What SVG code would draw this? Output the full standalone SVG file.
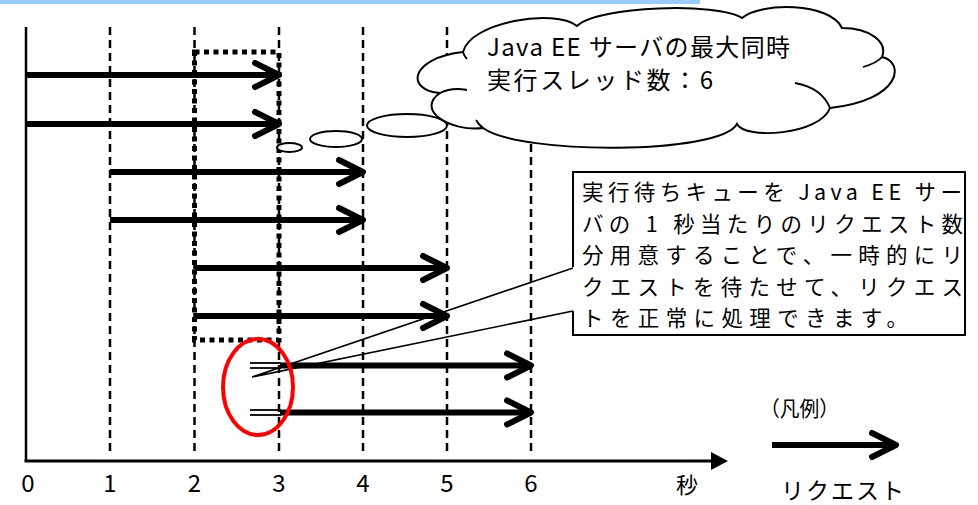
<svg xmlns="http://www.w3.org/2000/svg" width="978" height="505" viewBox="0 0 978 505">
<style>
.t{font-family:"Noto Sans CJK JP","Noto Sans",sans-serif;fill:#000}
.grid{stroke:#000;stroke-width:2.5;stroke-dasharray:8 5;fill:none}
.req{stroke:#000;stroke-width:6;fill:none}
.thin{stroke:#000;stroke-width:1.8;fill:none}
.bub{fill:#fff;stroke:#000;stroke-width:2}
</style>
<defs>
<marker id="chev" markerUnits="userSpaceOnUse" markerWidth="40" markerHeight="40" viewBox="-30 -20 40 40" refX="0" refY="0" orient="auto" overflow="visible">
<path d="M-24,-12 L0,0 L-24,12" fill="none" stroke="#000" stroke-width="6" stroke-linecap="round" stroke-linejoin="round"/>
</marker>
</defs>
<rect x="0" y="0" width="700" height="4" fill="#99ccff"/>
<g id="grid">
<line class="grid" x1="110" y1="27" x2="110" y2="456"/>
<line class="grid" x1="194.5" y1="27" x2="194.5" y2="456"/>
<line class="grid" x1="279" y1="27" x2="279" y2="456"/>
<line class="grid" x1="363" y1="27" x2="363" y2="456"/>
<line class="grid" x1="447" y1="27" x2="447" y2="456"/>
<line class="grid" x1="531" y1="27" x2="531" y2="456"/>
</g>
<g id="capacity-box">
<rect x="194.5" y="52" width="84.5" height="288" fill="none" stroke="#000" stroke-width="5" stroke-dasharray="5 4.5"/>
</g>
<g id="connectors">
<line class="req" x1="26" y1="75" x2="279" y2="75" marker-end="url(#chev)"/>
<line class="req" x1="26" y1="124" x2="279" y2="124" marker-end="url(#chev)"/>
<line class="req" x1="110" y1="172" x2="363" y2="172" marker-end="url(#chev)"/>
<line class="req" x1="110" y1="220" x2="363" y2="220" marker-end="url(#chev)"/>
<line class="req" x1="194.5" y1="268" x2="447" y2="268" marker-end="url(#chev)"/>
<line class="req" x1="194.5" y1="316" x2="447" y2="316" marker-end="url(#chev)"/>
<line class="thin" x1="250" y1="363" x2="281" y2="363"/>
<line class="thin" x1="250" y1="368" x2="281" y2="368"/>
<line class="req" x1="280" y1="365.5" x2="531" y2="365.5" marker-end="url(#chev)"/>
<line class="thin" x1="250" y1="410" x2="281" y2="410"/>
<line class="thin" x1="250" y1="415" x2="281" y2="415"/>
<line class="req" x1="280" y1="412.5" x2="531" y2="412.5" marker-end="url(#chev)"/>
</g>
<g id="thought-bubbles">
<ellipse class="bub" cx="289.5" cy="147.5" rx="12.5" ry="4.5"/>
<ellipse class="bub" cx="336" cy="139" rx="26" ry="8"/>
<ellipse class="bub" cx="407" cy="125.5" rx="40" ry="11.5"/>
</g>
<g id="cloud">
<path class="bub" d="M463,52 C470,22 555,8 577,26 C598,6 718,2 742,18 C760,2 830,2 842,28 C870,28 888,42 882,57 C905,62 902,100 830,108 C820,135 745,140 737,124 C720,155 520,155 483,128 C450,132 415,110 440,93 C405,90 410,58 463,52 Z"/>
<path class="thin" d="M440,93 Q452,87 467,90"/>
<path class="thin" d="M463,52 Q464,56 467,59"/>
<path class="thin" d="M882,57 Q877,63 863,67"/>
<path class="thin" d="M830,108 Q822,88 795,83"/>
<path class="thin" d="M483,128 Q478,124 476,120"/>
<text class="t" x="487" y="56" font-size="24" textLength="303" lengthAdjust="spacing">Java EE サーバの最大同時</text>
<text class="t" x="487" y="89" font-size="24" textLength="226" lengthAdjust="spacing">実行スレッド数：6</text>
</g>
<g id="callout">
<path d="M573,267 L573,172 L965,172 L965,335 L573,335 L573,311" fill="#fff" stroke="#000" stroke-width="2"/>
<path d="M573,268 L252,377 L573,311" fill="none" stroke="#000" stroke-width="1.6" stroke-linejoin="miter"/>
<g class="t" font-size="21.5">
<text x="582" y="200" textLength="380" lengthAdjust="spacing">実行待ちキューを Java EE サー</text>
<text x="582" y="231.5" textLength="381" lengthAdjust="spacing">バの 1 秒当たりのリクエスト数</text>
<text x="582" y="263" textLength="381" lengthAdjust="spacing">分用意することで、一時的にリ</text>
<text x="582" y="294.5" textLength="381" lengthAdjust="spacing">クエストを待たせて、リクエス</text>
<text x="582" y="326" textLength="326" lengthAdjust="spacing">トを正常に処理できます。</text>
</g>
</g>
<g id="highlight">
<ellipse cx="258" cy="387" rx="35" ry="48" fill="none" stroke="#ff0000" stroke-width="4"/>
</g>
<g id="axes">
<line x1="26" y1="27" x2="26" y2="461" stroke="#000" stroke-width="2.5"/>
<line x1="24.5" y1="461" x2="713" y2="461" stroke="#000" stroke-width="3"/>
<polygon points="711,452 728,461 711,470" fill="#000"/>
<g class="t" font-size="24" text-anchor="middle">
<text x="28" y="492">0</text>
<text x="110" y="492">1</text>
<text x="194.5" y="492">2</text>
<text x="279" y="492">3</text>
<text x="363" y="492">4</text>
<text x="447" y="492">5</text>
<text x="531" y="492">6</text>
</g>
<text class="t" x="687" y="493" font-size="22" text-anchor="middle">秒</text>
</g>
<g id="legend">
<text class="t" x="760" y="416" font-size="21" textLength="79" lengthAdjust="spacingAndGlyphs">（凡例）</text>
<line class="req" x1="772" y1="445" x2="896" y2="445" marker-end="url(#chev)"/>
<text class="t" x="781" y="499" font-size="23" textLength="123" lengthAdjust="spacing">リクエスト</text>
</g>
</svg>
